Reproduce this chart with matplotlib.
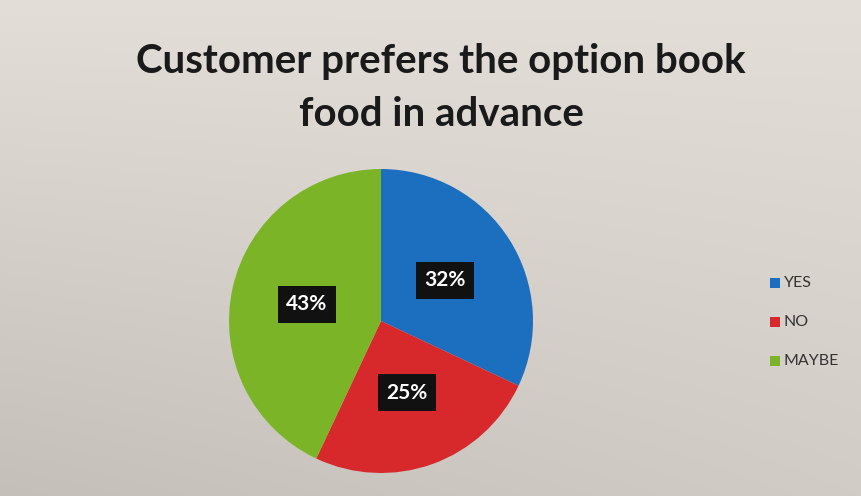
import numpy as np
import matplotlib
matplotlib.use("Agg")
import matplotlib.pyplot as plt
from matplotlib.patches import Rectangle

# Survey answers
labels = ['YES', 'NO', 'MAYBE']
shares = [32, 25, 43]
colors = ['#1C6FBE', '#D7282C', '#7BB427']
title = 'Customer prefers the option book\nfood in advance'

W, H = 862, 496
fig = plt.figure(figsize=(W / 100, H / 100), dpi=100)

# Soft grey backdrop, lighter towards the top right
bg = fig.add_axes([0, 0, 1, 1])
yy, xx = np.mgrid[0:1:200j, 0:1:200j]
shade = 0.87 - 0.07 * yy - 0.05 * (1 - xx) * yy
rgb = np.dstack([shade + 0.02, shade, shade - 0.025])
bg.imshow(np.clip(rgb, 0, 1), extent=[0, 1, 0, 1], aspect='auto', origin='upper')
bg.set_axis_off()

fig.text(441 / W, 1 - 88 / H, title, ha='center', va='center',
         fontsize=29, fontweight='bold', family='Lato', color='#1a1a1a',
         linespacing=1.55)

# Pie placed by pixel box
cx, cy, r = 381, 321, 152
ax = fig.add_axes([(cx - r) / W, (H - cy - r) / H, 2 * r / W, 2 * r / H])
wedges, texts, autotexts = ax.pie(
    shares, colors=colors, startangle=90, counterclock=False,
    autopct='%d%%', pctdistance=0.5, radius=1,
    textprops=dict(color='white', fontsize=15, fontweight='bold', family='Lato'))
for t in autotexts:
    t.set_bbox(dict(facecolor='#111111', edgecolor='none', pad=6))
ax.set_xlim(-1, 1)
ax.set_ylim(-1, 1)
ax.set_aspect('auto')

# Legend on the right
leg_x, leg_y0, step = 775, 283, 39
for i, (lab, col) in enumerate(zip(labels, colors)):
    y = leg_y0 + i * step
    fig.patches.append(Rectangle(((leg_x - 5) / W, 1 - (y + 5) / H), 10 / W, 10 / H,
                                 transform=fig.transFigure, facecolor=col,
                                 edgecolor='none'))
    fig.text((leg_x + 9) / W, 1 - y / H, lab, ha='left', va='center',
             fontsize=11.5, family='Lato', color='#333333')

fig.savefig('out.png', dpi=100)
